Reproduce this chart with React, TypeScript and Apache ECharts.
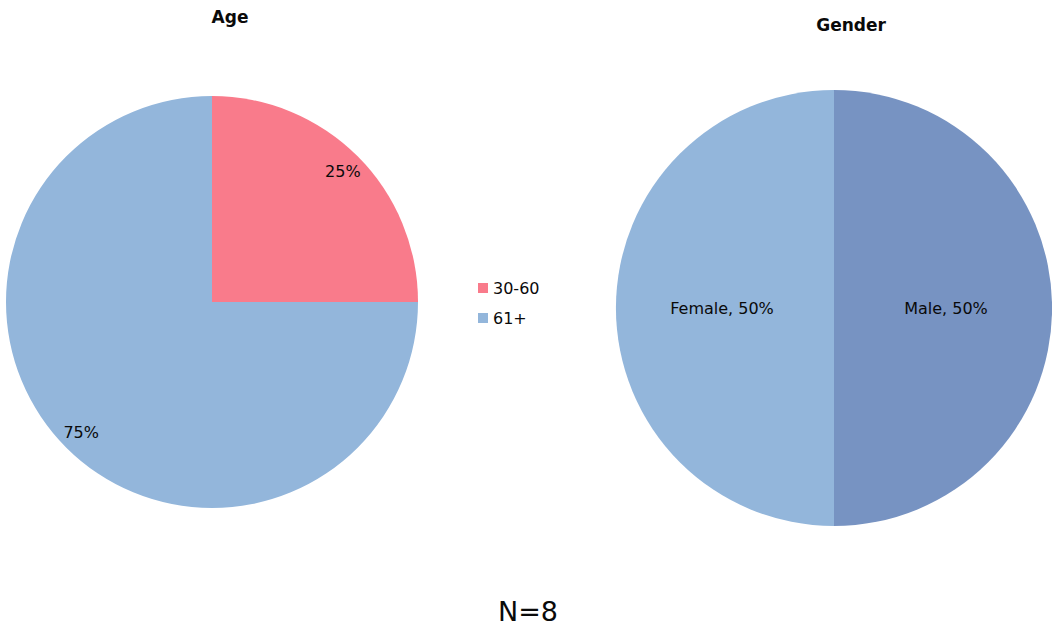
import React, { useEffect, useRef } from "react";
import * as echarts from "echarts";

const ageCategories = ["30-60", "61+"];
const ageValues = [25, 75];
const genderCategories = ["Male", "Female"];
const genderValues = [50, 50];
const ageColors = ["#F97B8B", "#93B6DB"];
const genderColors = ["#7793C2", "#93B6DB"];
const footnote = "N=8";

const FONT = "DejaVu Sans";

export default function App() {
  const ref = useRef<HTMLDivElement>(null);

  useEffect(() => {
    document.body.style.margin = "0";
    const chart = echarts.init(ref.current!, undefined, { renderer: "svg" });

    const ageData = ageCategories.map((name, i) => ({
      name,
      value: ageValues[i],
      itemStyle: { color: ageColors[i] },
    }));
    const genderData = genderCategories.map((name, i) => ({
      name,
      value: genderValues[i],
      itemStyle: { color: genderColors[i] },
    }));

    chart.setOption({
      animation: false,
      backgroundColor: "#ffffff",
      textStyle: { fontFamily: FONT },
      title: [
        {
          text: "Age",
          left: 225,
          top: 3,
          textAlign: "center",
          textStyle: { fontFamily: FONT, fontSize: 17, fontWeight: "bold", color: "#0a0a0a" },
        },
        {
          text: "Gender",
          left: 846,
          top: 11,
          textAlign: "center",
          textStyle: { fontFamily: FONT, fontSize: 17, fontWeight: "bold", color: "#0a0a0a" },
        },
        {
          text: footnote,
          left: 523,
          top: 593,
          textAlign: "center",
          textStyle: { fontFamily: FONT, fontSize: 27, fontWeight: "normal", color: "#0a0a0a" },
        },
      ],
      legend: {
        orient: "vertical",
        left: 473,
        top: 275,
        itemWidth: 10,
        itemHeight: 10,
        itemGap: 14,
        icon: "rect",
        data: ageCategories,
        textStyle: { fontFamily: FONT, fontSize: 16, color: "#0a0a0a" },
      },
      series: [
        {
          type: "pie",
          center: [212, 302],
          radius: [0, 206],
          startAngle: 90,
          clockwise: true,
          label: { show: false },
          labelLine: { show: false },
          emphasis: { disabled: true },
          data: ageData,
        },
        {
          // outer ring that only carries the age percentages
          type: "pie",
          center: [212, 302],
          radius: [158, 206],
          startAngle: 90,
          clockwise: true,
          silent: true,
          legendHoverLink: false,
          itemStyle: { color: "transparent" },
          label: {
            show: true,
            position: "inside",
            formatter: "{d}%",
            fontFamily: FONT,
            fontSize: 16,
            color: "#0a0a0a",
          },
          labelLine: { show: false },
          emphasis: { disabled: true },
          data: ageCategories.map((name, i) => ({
            name: name + " ",
            value: ageValues[i],
            itemStyle: { color: "transparent" },
          })),
        },
        {
          type: "pie",
          center: [834, 308],
          radius: [0, 218],
          startAngle: 90,
          clockwise: true,
          label: {
            show: true,
            position: "inside",
            formatter: "{b}, {d}%",
            fontFamily: FONT,
            fontSize: 16,
            color: "#0a0a0a",
          },
          labelLine: { show: false },
          emphasis: { disabled: true },
          data: genderData,
        },
      ],
    });

    return () => chart.dispose();
  }, []);

  return <div ref={ref} style={{ width: 1052, height: 627 }} />;
}
